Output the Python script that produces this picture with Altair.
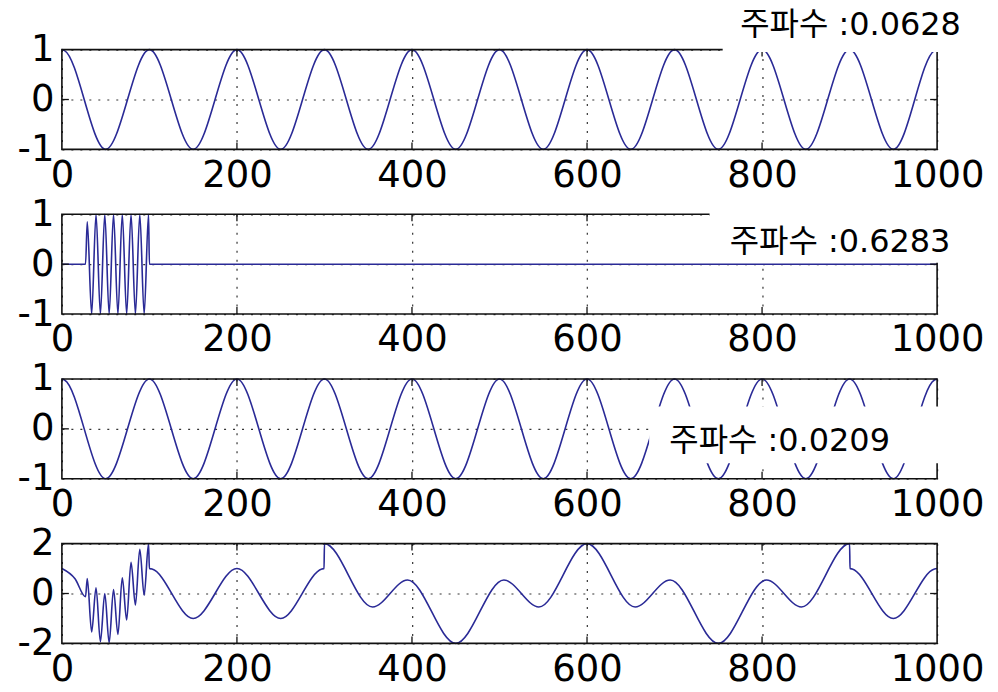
import altair as alt
import pandas as pd

# ---------------- data ----------------
X_TICKS = [0, 200, 400, 600, 800, 1000]
X_DOMAIN = [0, 1000]

# panel 1 : 주파수 0.0628  (peaks / troughs)
p1_x = [0, 3, 50, 100, 150, 200, 250, 300, 350, 400, 450, 500, 550, 600, 650,
        700, 750, 800, 850, 900, 950, 997, 1000]
p1_y = [1, 0.98, -1, 1, -1, 1, -1, 1, -1, 1, -1, 1, -1, 1, -1,
        1, -1, 1, -1, 1, -1, 0.98, 1]

# panel 2 : 주파수 0.6283  (short burst, zero elsewhere)
p2_x = [0, 27, 29, 34, 39, 44, 49, 54, 59, 64, 69, 74, 79, 84, 89, 94, 99, 100, 1000]
p2_y = [0, 0, 0.85, -1, 1, -1, 1, -1, 1, -1, 1, -1, 1, -1, 1, -1, 1, 0, 0]

# panel 3 : 주파수 0.0209
p3_x = [0, 3, 50, 100, 150, 200, 250, 300, 350, 400, 450, 500, 550, 600, 650,
        700, 750, 800, 850, 900, 950, 997, 1000]
p3_y = [1, 0.98, -1, 1, -1, 1, -1, 1, -1, 1, -1, 1, -1, 1, -1,
        1, -1, 1, -1, 1, -1, 0.98, 1]

# panel 4 : sum signal
p4_x = [0, 15, 27, 29, 34, 39, 44, 49, 54, 59, 64, 69, 74, 79, 84, 89, 94, 99, 100, 103,
        150, 200, 250, 297, 299.5, 300, 355, 395, 450, 505, 545, 600, 655, 695, 750, 805,
        845, 900, 900.5, 903, 950, 997, 1000]
p4_y = [1, 0.59, -0.13, 0.60, -1.54, 0.23, -1.93, 0.00, -1.97, 0.16, -1.64, 0.63, -1.06,
        1.25, -0.46, 1.77, -0.07, 2.00, 1.00, 0.98,
        -1, 1, -1, 0.98, 1, 2, -0.54, 0.54, -2, 0.54, -0.54, 2, -0.54, 0.54, -2, 0.54,
        -0.54, 2, 1, 0.98, -1, 0.98, 1]

labels = ["주파수 :0.0628", "주파수 :0.6283", "주파수 :0.0209", None]
label_x = [775, 763, 694]
label_y = [1.294, 0.254, -0.454]
# white label boxes [x0, x1, y0, y1] in data units
boxes = [[755, 1012, 0.954, 1.12], [740, 1012, 0.03, 1.1], [671, 1008, -0.69, 0.45]]

y_domains = [[-1, 1], [-1, 1], [-1, 1], [-2, 2]]
y_ticks = [[-1, 0, 1], [-1, 0, 1], [-1, 0, 1], [-2, 0, 2]]

# ---------------- style ----------------
LINE = "#2a2a96"
AX_FONT = "DejaVu Sans"
LBL_FONT = "DejaVu Sans, Noto Sans CJK KR"
W, H = 877, 100


def make_panel(xs, ys, ydom, yt, label, lx, ly, box):
    xs_scale = alt.Scale(domain=X_DOMAIN, nice=False, zero=False)
    ys_scale = alt.Scale(domain=ydom, nice=False, zero=False)
    common = dict(title=None, grid=True, gridDash=[2, 7], gridColor="#333333",
                  gridWidth=1.2, domain=False, ticks=False, labelFont=AX_FONT,
                  labelFontSize=37, labelColor="black", labelOverlap=False,
                  labelExpr="'' + datum.value")
    x_axis = alt.Axis(values=X_TICKS, labelPadding=8, labelFlush=False, **common)
    y_axis = alt.Axis(values=yt, labelPadding=8, **common)

    def X(f):
        return alt.X(f, type="quantitative", scale=xs_scale, axis=x_axis)

    def Y(f):
        return alt.Y(f, type="quantitative", scale=ys_scale, axis=y_axis)

    line = alt.Chart(pd.DataFrame({"x": xs, "y": ys})).mark_line(
        interpolate="monotone", color=LINE, strokeWidth=1.6
    ).encode(x=X("x"), y=Y("y"))

    frame = alt.Chart(pd.DataFrame({"x": [X_DOMAIN[0]], "x2": [X_DOMAIN[1]],
                                    "y": [ydom[0]], "y2": [ydom[1]]})).mark_rect(
        fillOpacity=0, stroke="#111111", strokeWidth=1.6
    ).encode(x=X("x"), x2="x2", y=Y("y"), y2="y2")

    tl = 7 / H * (ydom[1] - ydom[0])
    tlx = 7 / W * (X_DOMAIN[1] - X_DOMAIN[0])
    rows = []
    for t in X_TICKS[1:-1]:
        rows.append({"x": t, "x2": t, "y": ydom[0], "y2": ydom[0] + tl})
        rows.append({"x": t, "x2": t, "y": ydom[1], "y2": ydom[1] - tl})
    for t in yt[1:-1]:
        rows.append({"x": X_DOMAIN[0], "x2": X_DOMAIN[0] + tlx, "y": t, "y2": t})
        rows.append({"x": X_DOMAIN[1], "x2": X_DOMAIN[1] - tlx, "y": t, "y2": t})
    ticks = alt.Chart(pd.DataFrame(rows)).mark_rule(color="#111111", strokeWidth=1.3).encode(
        x=X("x"), x2="x2", y=Y("y"), y2="y2")

    layers = [line, frame, ticks]
    if label is not None:
        bx = alt.Chart(pd.DataFrame({"x": [box[0]], "x2": [box[1]],
                                     "y": [box[2]], "y2": [box[3]]})).mark_rect(
            color="white").encode(x=X("x"), x2="x2", y=Y("y"), y2="y2")
        txt = alt.Chart(pd.DataFrame({"x": [lx], "y": [ly], "t": [label]})).mark_text(
            align="left", baseline="alphabetic", font=LBL_FONT, fontSize=32, color="black"
        ).encode(x=X("x"), y=Y("y"), text="t:N")
        layers += [bx, txt]
    return alt.layer(*layers).properties(width=W, height=H)


series = [(p1_x, p1_y), (p2_x, p2_y), (p3_x, p3_y), (p4_x, p4_y)]
panels = []
for i, (xs, ys) in enumerate(series):
    lb = labels[i]
    panels.append(make_panel(xs, ys, y_domains[i], y_ticks[i], lb,
                             label_x[i] if lb else None, label_y[i] if lb else None,
                             boxes[i] if lb else None))

chart = alt.vconcat(*panels, spacing=65, bounds="flush").properties(
    padding={"left": 9, "top": 0, "right": 5, "bottom": 5},
    background="white",
).configure_view(stroke=None)

chart.save("out.html", embed_options={"renderer": "svg", "actions": False})
